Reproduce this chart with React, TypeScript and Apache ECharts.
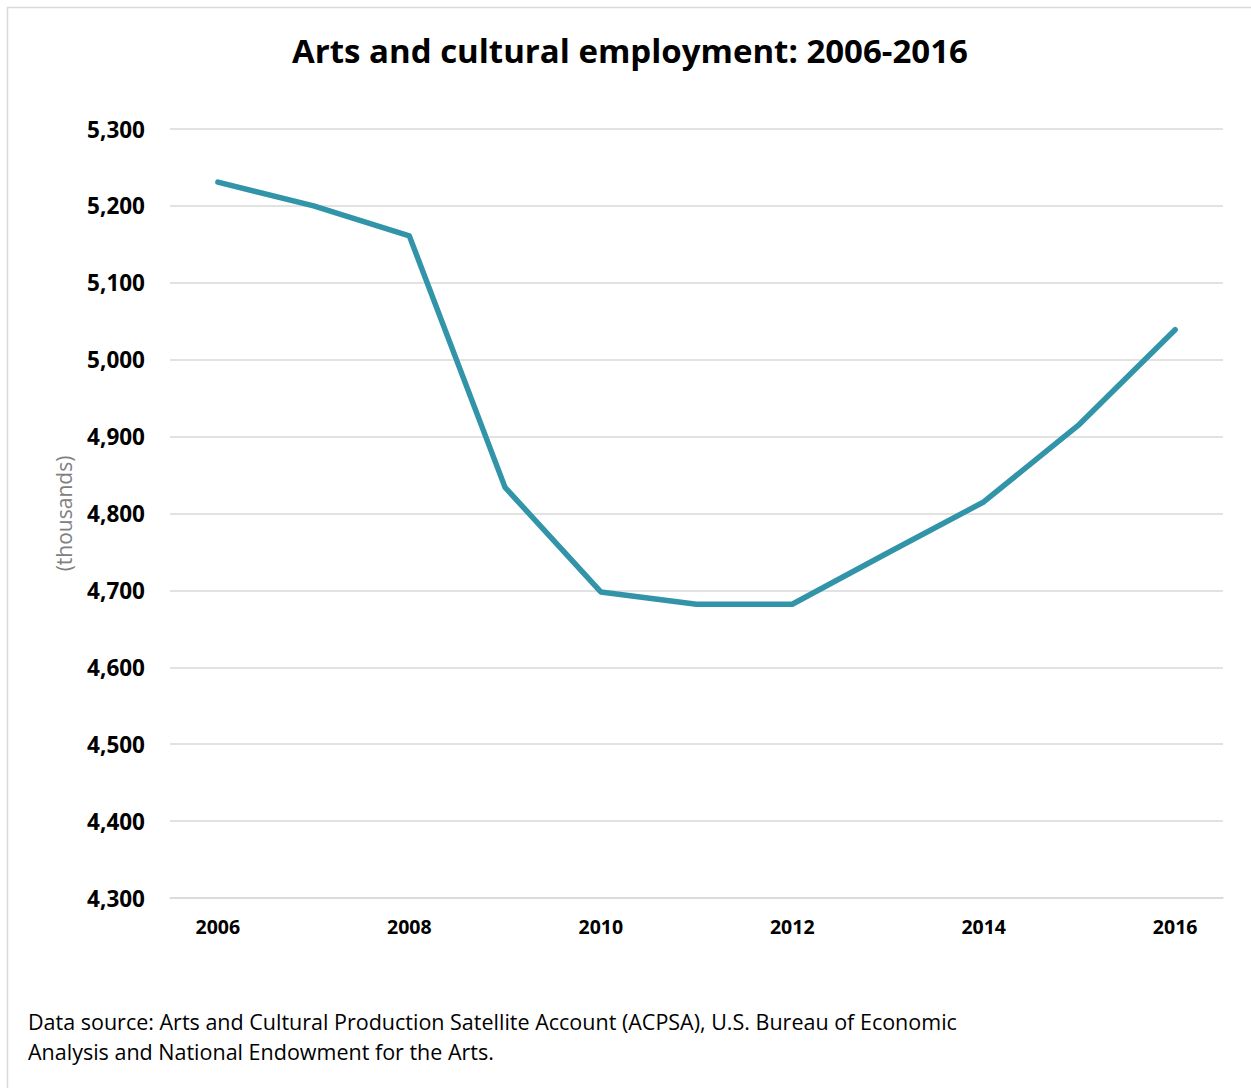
import React, { useEffect, useRef } from "react";
import * as echarts from "echarts";

const years = ["2006", "2007", "2008", "2009", "2010", "2011", "2012", "2013", "2014", "2015", "2016"];
const employment = [5231, 5200, 5161, 4834, 4698, 4682, 4682, 4749, 4815, 4916, 5039];
const titleText = "Arts and cultural employment: 2006-2016";
const sourceLines = [
  "Data source: Arts and Cultural Production Satellite Account (ACPSA), U.S. Bureau of Economic",
  "Analysis and National Endowment for the Arts.",
];

const FONT = "'Open Sans', Lato, sans-serif";

export default function App() {
  const ref = useRef<HTMLDivElement>(null);
  useEffect(() => {
    document.body.style.margin = "0";
    const chart = echarts.init(ref.current!, null, { renderer: "svg" });
    chart.setOption({
      animation: false,
      backgroundColor: "#ffffff",
      textStyle: { fontFamily: FONT },
      title: {
        text: titleText,
        left: 287,
        top: 29,
        textStyle: { fontFamily: FONT, fontSize: 33, fontWeight: "bold", color: "#000000" },
      },
      grid: { left: 170, right: 28, top: 129, bottom: 190, containLabel: false },
      xAxis: {
        type: "category",
        data: years,
        boundaryGap: true,
        axisLine: { show: true, lineStyle: { color: "#d9d9d9", width: 1.5 } },
        axisTick: { show: false },
        axisLabel: {
          interval: 1,
          margin: 18,
          fontFamily: FONT,
          fontSize: 19.5,
          fontWeight: "bold",
          color: "#000000",
        },
      },
      yAxis: {
        type: "value",
        min: 4300,
        max: 5300,
        interval: 100,
        name: "(thousands)",
        nameLocation: "middle",
        nameGap: 96,
        nameRotate: 90,
        nameTextStyle: { fontFamily: FONT, fontSize: 21, color: "#808080" },
        axisLine: { show: false },
        axisTick: { show: false },
        splitLine: { lineStyle: { color: "#d9d9d9", width: 1.5 } },
        axisLabel: {
          margin: 25,
          fontFamily: FONT,
          fontSize: 22.5,
          fontWeight: "bold",
          color: "#000000",
          formatter: (v: number) => v.toLocaleString("en-US"),
        },
      },
      series: [
        {
          type: "line",
          data: employment,
          symbol: "none",
          lineStyle: { color: "#3194a8", width: 5.5, cap: "round", join: "round" },
        },
      ],
      graphic: [
        {
          type: "rect",
          shape: { x: 7.5, y: 7.5, width: 1260, height: 1100 },
          style: { fill: "none", stroke: "#d9d9d9", lineWidth: 1.5 },
          silent: true,
        },
        ...sourceLines.map((t, i) => ({
          type: "text",
          x: 28,
          y: 1021 + i * 30,
          style: {
            text: t,
            fontFamily: FONT,
            fontSize: 21.5,
            fill: "#000000",
            textVerticalAlign: "middle",
            textAlign: "left",
          },
        })),
      ],
    });
    return () => chart.dispose();
  }, []);
  return <div ref={ref} style={{ width: 1251, height: 1088 }} />;
}
